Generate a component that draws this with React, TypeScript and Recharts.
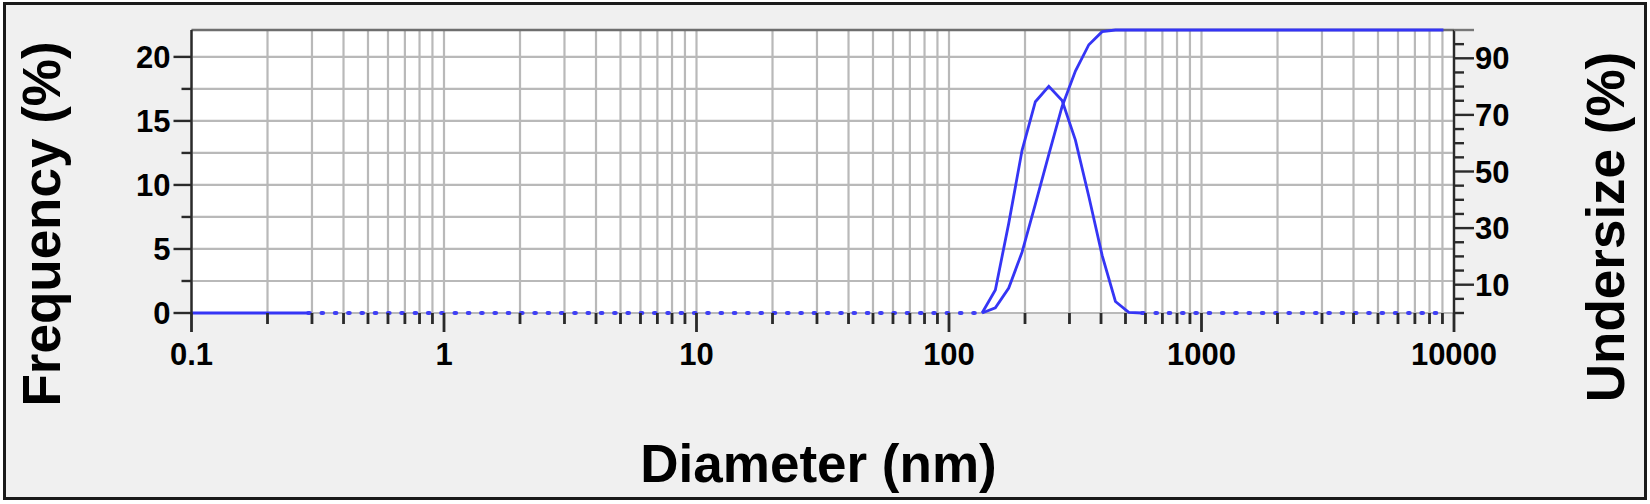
import React from 'react';
import {
  LineChart,
  Line,
  XAxis,
  YAxis,
  CartesianGrid,
  ReferenceLine,
} from 'recharts';

// bins (nm) and the values at each bin
const diameters = [135.2, 152.6, 172.4, 194.7, 219.8, 248.4, 280.5, 316.7, 357.9, 404.1, 456.2, 515.3, 582.0];
const frequency = [0, 1.8, 7.0, 12.7, 16.5, 17.7, 16.6, 13.5, 9.1, 4.5, 0.9, 0.05, 0];

const undersizeDiameters = [135.2, 152.6, 172.4, 194.7, 219.8, 248.4, 280.5, 316.7, 357.9, 404.1, 456.2, 515.3, 582.0, 9080];
const undersize = [0, 1.8, 8.8, 21.5, 38.5, 56.0, 73.0, 85.5, 94.8, 99.4, 100, 100, 100, 100];

// zero level outside the peak: solid at the far left, dotted elsewhere
const zeroSolid = [0.1, 0.29];
const zeroDottedLow = [0.29, 135.2];
const zeroDottedHigh = [582.0, 9080];

const decades = [0.1, 1, 10, 100, 1000, 10000];
const minorSteps = [2, 3, 4, 5, 6, 7, 8, 9];
const freqTicks = [0, 2.5, 5, 7.5, 10, 12.5, 15, 17.5, 20];
const freqLabels = [0, 5, 10, 15, 20];
const underTicks = [0, 5, 10, 15, 20, 25, 30, 35, 40, 45, 50, 55, 60, 65, 70, 75, 80, 85, 90, 95, 100];
const underLabels = [10, 30, 50, 70, 90];

const xTicks = decades.flatMap((d, i) =>
  i < decades.length - 1 ? [d, ...minorSteps.map((m) => d * m)] : [d]
);

const freqData = diameters.map((d, i) => ({ d, v: frequency[i] }));
const underData = undersizeDiameters.map((d, i) => ({ d, v: undersize[i] }));
const toZero = (arr: number[]) => arr.map((d) => ({ d, v: 0 }));

const BLUE = '#3535f5';
const DOT_BLUE = '#3f3ff4';
const FONT = '"Liberation Sans", Arial, sans-serif';
const AXIS = '#2a2a2a';
const LW = 2.8;

const isDecade = (v: number) => decades.some((d) => Math.abs(d - v) < d * 1e-6);

const XTick = (props: any) => {
  const { x, y, payload } = props;
  const major = isDecade(payload.value);
  return (
    <g>
      <rect x={x - 1.4} y={y} width={2.8} height={major ? 19 : 11} fill={AXIS} />
      {major && (
        <text x={x} y={y + 52} textAnchor="middle" fontFamily={FONT} fontWeight="bold" fontSize={31} fill="#000">
          {String(payload.value)}
        </text>
      )}
    </g>
  );
};

const LeftTick = (props: any) => {
  const { x, y, payload } = props;
  const major = freqLabels.includes(payload.value);
  return (
    <g>
      <line x1={x} x2={x - (major ? 18 : 10)} y1={y} y2={y} stroke={AXIS} strokeWidth={2.4} />
      {major && (
        <text x={x - 21} y={y + 11} textAnchor="end" fontFamily={FONT} fontWeight="bold" fontSize={31} fill="#000">
          {payload.value}
        </text>
      )}
    </g>
  );
};

const RightTick = (props: any) => {
  const { x, y, payload } = props;
  const v = payload.value;
  const major = underLabels.includes(v);
  const top = v === 100;
  return (
    <g>
      <line
        x1={x}
        x2={x + (major || top ? 20 : 10)}
        y1={y}
        y2={y}
        stroke={top ? '#777' : AXIS}
        strokeWidth={2.4}
      />
      {major && (
        <text x={x + 21} y={y + 11} textAnchor="start" fontFamily={FONT} fontWeight="bold" fontSize={31} fill="#000">
          {v}
        </text>
      )}
    </g>
  );
};

const titleStyle = { fontFamily: FONT, fontWeight: 'bold' as const, fontSize: 53, fill: '#000' };

const dottedProps = {
  xAxisId: 'x',
  yAxisId: 'left',
  dataKey: 'v',
  stroke: DOT_BLUE,
  strokeWidth: 4.2,
  strokeDasharray: '1.5 11.8',
  strokeLinecap: 'round' as const,
  dot: false,
  activeDot: false,
  isAnimationActive: false,
};

export default function App() {
  return (
    <div
      style={{
        position: 'absolute',
        left: 0,
        top: 0,
        width: 1650,
        height: 504,
      }}
    >
      <div
        style={{
          position: 'absolute',
          left: 3,
          top: 2,
          width: 1644,
          height: 498,
          boxSizing: 'border-box',
          border: '3px solid #1a1a1a',
          background: '#f0f0f0',
        }}
      />
      <svg
        width={1650}
        height={504}
        style={{ position: 'absolute', left: 0, top: 0, pointerEvents: 'none' }}
      >
        <text transform="translate(60,224) rotate(-90)" textAnchor="middle" {...titleStyle}>
          Frequency (%)
        </text>
        <text transform="translate(1624,227) rotate(-90)" textAnchor="middle" {...titleStyle}>
          Undersize (%)
        </text>
        <text x={818.5} y={482} textAnchor="middle" {...titleStyle}>
          Diameter (nm)
        </text>
      </svg>
      <div style={{ position: 'absolute', left: 0, top: 0 }}>
        <LineChart
          width={1650}
          height={504}
          margin={{ top: 30, right: 136, bottom: 131, left: 131.5 }}
        >
          <CartesianGrid
            xAxisId="x"
            yAxisId="left"
            fill="#fff"
            stroke="#b9b9b9"
            strokeWidth={2.2}
          />
          <XAxis
            xAxisId="x"
            dataKey="d"
            type="number"
            scale="log"
            domain={[0.1, 10000]}
            ticks={xTicks}
            interval={0}
            height={60}
            axisLine={false}
            tickLine={false}
            tickSize={0}
            tickMargin={0}
            tick={<XTick />}
          />
          <YAxis
            yAxisId="left"
            type="number"
            domain={[0, 22.1]}
            ticks={freqTicks}
            interval={0}
            width={60}
            axisLine={{ stroke: AXIS, strokeWidth: 2.4 }}
            tickLine={false}
            tickSize={0}
            tickMargin={0}
            tick={<LeftTick />}
          />
          <YAxis
            yAxisId="right"
            orientation="right"
            type="number"
            domain={[0, 100]}
            ticks={underTicks}
            interval={0}
            width={60}
            axisLine={{ stroke: AXIS, strokeWidth: 2.4 }}
            tickLine={false}
            tickSize={0}
            tickMargin={0}
            tick={<RightTick />}
          />
          <ReferenceLine xAxisId="x" yAxisId="right" y={100} stroke="#6e6e6e" strokeWidth={2.6} />
          <Line data={toZero(zeroDottedLow)} {...dottedProps} />
          <Line data={toZero(zeroDottedHigh)} {...dottedProps} />
          <Line
            xAxisId="x"
            yAxisId="left"
            data={toZero(zeroSolid)}
            dataKey="v"
            stroke={BLUE}
            strokeWidth={LW}
            dot={false}
            activeDot={false}
            isAnimationActive={false}
          />
          <Line
            xAxisId="x"
            yAxisId="right"
            data={underData}
            dataKey="v"
            stroke={BLUE}
            strokeWidth={LW}
            dot={false}
            activeDot={false}
            isAnimationActive={false}
          />
          <Line
            xAxisId="x"
            yAxisId="left"
            data={freqData}
            dataKey="v"
            stroke={BLUE}
            strokeWidth={LW}
            dot={false}
            activeDot={false}
            isAnimationActive={false}
          />
        </LineChart>
      </div>
    </div>
  );
}
